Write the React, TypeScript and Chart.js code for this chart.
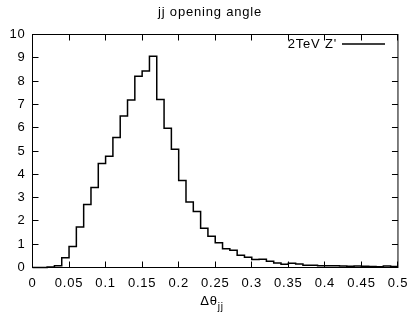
import React, { useEffect, useRef } from "react";
import { Chart, registerables } from "chart.js";

Chart.register(...registerables);

// Histogram bin left edges (Δθjj), bin width 0.01
const BIN_LEFT = [
  0.0, 0.01, 0.02, 0.03, 0.04, 0.05, 0.06, 0.07, 0.08, 0.09,
  0.1, 0.11, 0.12, 0.13, 0.14, 0.15, 0.16, 0.17, 0.18, 0.19,
  0.2, 0.21, 0.22, 0.23, 0.24, 0.25, 0.26, 0.27, 0.28, 0.29,
  0.3, 0.31, 0.32, 0.33, 0.34, 0.35, 0.36, 0.37, 0.38, 0.39,
  0.4, 0.41, 0.42, 0.43, 0.44, 0.45, 0.46, 0.47, 0.48, 0.49,
];
const LAST_EDGE = 0.5;

// 2TeV Z' bin contents
const Z2TEV = [
  0, 0, 0.02, 0.07, 0.42, 0.9, 1.74, 2.7, 3.43, 4.46,
  4.78, 5.58, 6.5, 7.19, 8.21, 8.43, 9.07, 7.21, 5.98, 5.08,
  3.73, 2.81, 2.4, 1.68, 1.34, 1.06, 0.8, 0.74, 0.53, 0.44,
  0.34, 0.35, 0.27, 0.19, 0.14, 0.18, 0.15, 0.1, 0.1, 0.07,
  0.08, 0.08, 0.06, 0.05, 0.06, 0.05, 0.04, 0.03, 0.06, 0.04,
];

const X_TICKS = [0, 0.05, 0.1, 0.15, 0.2, 0.25, 0.3, 0.35, 0.4, 0.45, 0.5];
const Y_TICKS = [0, 1, 2, 3, 4, 5, 6, 7, 8, 9, 10];

const TITLE = "jj opening angle";
const X_TITLE_MAIN = "Δθ";
const X_TITLE_SUB = "jj";
const SERIES_LABEL = "2TeV Z'";

const FONT_FAMILY = "'Liberation Sans', Arial, Helvetica, sans-serif";
const LETTER_SPACING = "0.8px";
const TICK_LEN = 6;

const framePlugin = {
  id: "gnuframe",
  beforeDraw(chart: any) {
    (chart.ctx as any).letterSpacing = LETTER_SPACING;
  },
  afterDraw(chart: any) {
    const { ctx, chartArea: a, scales } = chart;
    const xs = scales.x;
    const ys = scales.y;
    ctx.save();
    (ctx as any).letterSpacing = LETTER_SPACING;
    ctx.strokeStyle = "#000";
    ctx.lineWidth = 1;
    ctx.strokeRect(a.left, a.top, a.right - a.left, a.bottom - a.top);
    ctx.beginPath();
    for (const v of X_TICKS) {
      const px = Math.round(xs.getPixelForValue(v) - 0.5) + 0.5;
      ctx.moveTo(px, a.bottom);
      ctx.lineTo(px, a.bottom - TICK_LEN);
      ctx.moveTo(px, a.top);
      ctx.lineTo(px, a.top + TICK_LEN);
    }
    for (const v of Y_TICKS) {
      const py = Math.round(ys.getPixelForValue(v) - 0.5) + 0.5;
      ctx.moveTo(a.left, py);
      ctx.lineTo(a.left + TICK_LEN, py);
      ctx.moveTo(a.right, py);
      ctx.lineTo(a.right - TICK_LEN, py);
    }
    ctx.stroke();

    ctx.fillStyle = "#000";
    // Title
    ctx.font = `13px ${FONT_FAMILY}`;
    ctx.textAlign = "center";
    ctx.textBaseline = "alphabetic";
    ctx.fillText(TITLE, 210, 16);

    // Legend
    ctx.textAlign = "right";
    ctx.textBaseline = "middle";
    ctx.fillText(SERIES_LABEL, 337, 44);
    ctx.beginPath();
    ctx.lineWidth = 1.5;
    ctx.moveTo(342, 44);
    ctx.lineTo(385, 44);
    ctx.stroke();

    // X axis title with subscript
    ctx.textBaseline = "alphabetic";
    ctx.textAlign = "left";
    ctx.font = `13px ${FONT_FAMILY}`;
    const mainW = ctx.measureText(X_TITLE_MAIN).width;
    ctx.font = `10px ${FONT_FAMILY}`;
    const subW = ctx.measureText(X_TITLE_SUB).width;
    const startX = 212 - (mainW + subW) / 2;
    ctx.font = `13px ${FONT_FAMILY}`;
    ctx.fillText(X_TITLE_MAIN, startX, 305);
    ctx.font = `10px ${FONT_FAMILY}`;
    ctx.fillText(X_TITLE_SUB, startX + mainW, 310);

    (ctx as any).letterSpacing = "0px";
    ctx.restore();
  },
};

function fmt(v: number) {
  return String(Number(v.toFixed(2)));
}

export default function App() {
  const canvasRef = useRef<HTMLCanvasElement | null>(null);

  useEffect(() => {
    const canvas = canvasRef.current;
    if (!canvas) return;
    const points = BIN_LEFT.map((x, i) => ({ x, y: Z2TEV[i] }));
    points.push({ x: LAST_EDGE, y: Z2TEV[Z2TEV.length - 1] });

    const chart = new Chart(canvas, {
      type: "line",
      data: {
        datasets: [
          {
            label: SERIES_LABEL,
            data: points,
            stepped: true,
            borderColor: "#000",
            borderWidth: 1.5,
            pointRadius: 0,
            fill: false,
            clip: false as any,
          },
        ],
      },
      options: {
        responsive: false,
        animation: false,
        events: [],
        layout: { padding: { top: 34.5, right: 14.5, bottom: 0, left: 0 } },
        plugins: {
          legend: { display: false },
          title: { display: false },
          tooltip: { enabled: false },
        },
        scales: {
          x: {
            type: "linear",
            min: 0,
            max: 0.5,
            afterBuildTicks: (s: any) => {
              s.ticks = X_TICKS.map((v) => ({ value: v }));
            },
            afterFit: (s: any) => {
              s.height = 46.5;
            },
            grid: { display: false, drawTicks: false },
            border: { display: false },
            ticks: {
              autoSkip: false,
              maxRotation: 0,
              padding: 8,
              color: "#000",
              font: { family: FONT_FAMILY, size: 13 },
              callback: (v: any) => fmt(Number(v)),
            },
          },
          y: {
            type: "linear",
            min: 0,
            max: 10,
            afterBuildTicks: (s: any) => {
              s.ticks = Y_TICKS.map((v) => ({ value: v }));
            },
            afterFit: (s: any) => {
              s.width = 32.5;
            },
            grid: { display: false, drawTicks: false },
            border: { display: false },
            ticks: {
              autoSkip: false,
              padding: 7,
              color: "#000",
              font: { family: FONT_FAMILY, size: 13 },
              callback: (v: any) => fmt(Number(v)),
            },
          },
        },
      },
      plugins: [framePlugin],
    });
    return () => chart.destroy();
  }, []);

  return (
    <canvas
      ref={canvasRef}
      width={415}
      height={314}
      style={{ position: "fixed", left: 0, top: 0, width: 415, height: 314, display: "block", background: "#fff" }}
    />
  );
}
